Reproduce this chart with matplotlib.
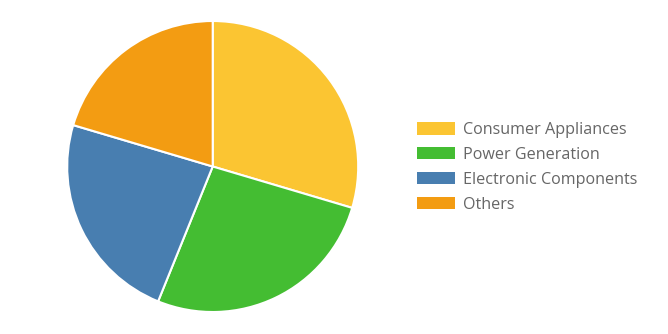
import matplotlib
matplotlib.use('Agg')
import matplotlib.pyplot as plt
from matplotlib.patches import Patch

labels = ['Consumer Appliances', 'Power Generation', 'Electronic Components', 'Others']
values = [29, 26, 23, 20]
colors = ['#fbc532', '#44bd32', '#487eb0', '#f39c12']

plt.rcParams['font.family'] = ['Open Sans', 'DejaVu Sans']

fig = plt.figure(figsize=(6.68, 3.34), dpi=100)

# pie centred at about (212, 166) px, radius ~146 px
cx, cy, r = 212.7, 166.5, 145.5
ax = fig.add_axes([(cx - r) / 668, (334 - cy - r) / 334, 2 * r / 668, 2 * r / 334])
wedges, _ = ax.pie(values, colors=colors, startangle=90, counterclock=False,
                   radius=1, wedgeprops=dict(edgecolor='white', linewidth=1.5,
                                             clip_on=False))
ax.set_xlim(-1, 1)
ax.set_ylim(-1, 1)
ax.set_aspect('equal')
ax.axis('off')

handles = [Patch(facecolor=c, edgecolor='none') for c in colors]
fig.legend(handles, labels, loc='center left', bbox_to_anchor=(417 / 668, 0.499),
           frameon=False, fontsize=11.6, labelcolor='#666666',
           handlelength=2.35, handleheight=0.8, handletextpad=0.5,
           labelspacing=0.55, borderpad=0, borderaxespad=0)

fig.savefig('out.png', dpi=100)
